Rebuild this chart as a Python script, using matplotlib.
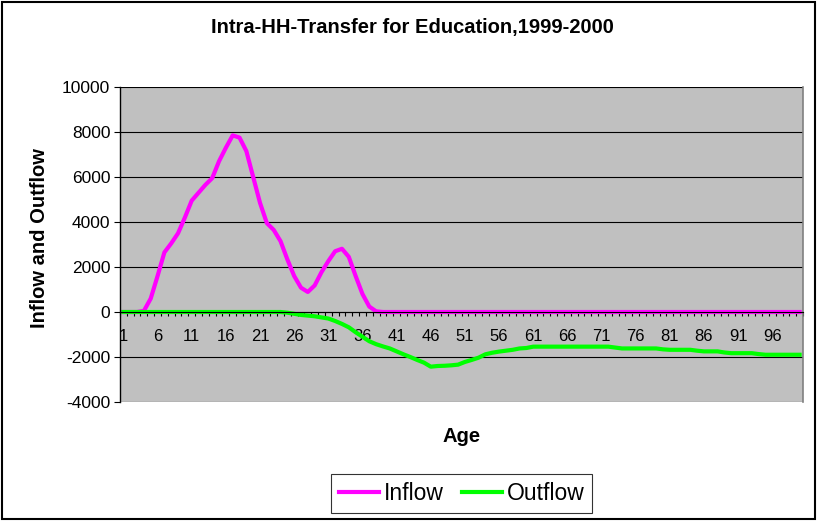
import numpy as np
import matplotlib.pyplot as plt
from matplotlib.patches import Rectangle

plt.rcParams['font.family'] = ['Liberation Sans', 'DejaVu Sans']
plt.rcParams['axes.unicode_minus'] = False

ages = np.arange(1, 101)

inflow = [0, 0, 0, 50, 600, 1600, 2650, 3050, 3500, 4200,
          4950, 5300, 5650, 5950, 6700, 7300, 7850, 7750, 7150, 6000,
          4850, 3950, 3650, 3150, 2340, 1600, 1080, 890, 1180, 1770,
          2260, 2700, 2810, 2450, 1600, 800, 240, 30] + [0] * 62

outflow = ([0] * 24 +
           [-30, -80, -130, -160, -190, -240, -290, -400, -530, -680,
            -900, -1100, -1300, -1430, -1530, -1620, -1750, -1880, -2000, -2130,
            -2250, -2430, -2400, -2390, -2370, -2340, -2220, -2130, -2030, -1880,
            -1810, -1760, -1720, -1680, -1620, -1600] +
           [-1540] * 12 + [-1580] + [-1620] * 6 + [-1660] + [-1680] * 4 +
           [-1720] + [-1750] * 3 + [-1800] + [-1830] * 4 + [-1870] + [-1900] * 6)

tick_labels = [str(a) for a in range(1, 100, 5)]

fig = plt.figure(figsize=(8.17, 5.22), dpi=100)
ax = fig.add_axes([120 / 817, 1 - 402 / 522, 683 / 817, 315 / 522])
ax.set_facecolor('#C0C0C0')

ax.plot(ages, inflow, color='#FF00FF', lw=3, label='Inflow', solid_joinstyle='round')
ax.plot(ages, outflow, color='#00FF00', lw=3, label='Outflow', solid_joinstyle='round')

ax.set_xlim(0.5, 100.5)
ax.set_ylim(-4000, 10000)
ax.set_yticks(np.arange(-4000, 10001, 2000))
ax.yaxis.grid(True, color='black', lw=0.8)
ax.set_axisbelow(True)

ax.set_xticks([int(t) for t in tick_labels])
ax.set_xticklabels(tick_labels)
ax.set_xticks(np.arange(0.5, 101, 1), minor=True)
ax.tick_params(axis='x', which='major', length=0, pad=12, labelsize=12)
ax.tick_params(axis='x', which='minor', length=3, width=0.8, direction='out')
ax.tick_params(axis='y', length=4, width=0.8, pad=3, labelsize=12.5)

ax.spines['bottom'].set_position(('data', 0))
ax.spines['bottom'].set_linewidth(0.8)
ax.spines['left'].set_linewidth(1)
ax.spines['top'].set_visible(False)
ax.spines['right'].set_color('#808080')
ax.spines['right'].set_linewidth(1.2)

fig.text(412 / 817, 1 - 28 / 522, 'Intra-HH-Transfer for Education,1999-2000',
         ha='center', va='center', fontsize=14.5, fontweight='bold')
fig.text(40 / 817, 1 - 238 / 522, 'Inflow and Outflow', rotation=90,
         ha='center', va='center', fontsize=14.5, fontweight='bold')
fig.text(462 / 817, 1 - 437 / 522, 'Age', ha='center', va='center',
         fontsize=14.5, fontweight='bold')

leg = fig.legend(loc='center', bbox_to_anchor=(461.5 / 817, 1 - 493.5 / 522),
                 ncol=2, fontsize=16.5, frameon=True, fancybox=False,
                 edgecolor='black', handlelength=1.75, handletextpad=0.2,
                 columnspacing=0.8, borderpad=0.35)
leg.get_frame().set_linewidth(0.8)

fig.patches.append(Rectangle((0.002, 0.006), 0.995, 0.99, transform=fig.transFigure,
                             fill=False, edgecolor='black', lw=1.5))

fig.savefig('out.png', dpi=100)
